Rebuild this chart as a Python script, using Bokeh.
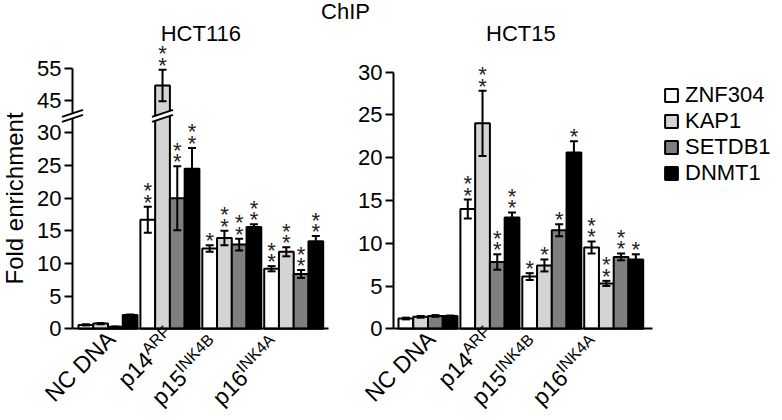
import math
from bokeh.plotting import figure
from bokeh.core.properties import value
from bokeh.models import (ColumnDataSource, Whisker, TeeHead, LabelSet, Label, Legend, LegendItem,
                          FixedTicker, Arrow, PolyAnnotation, Range1d, LinearAxis)
from bokeh.embed import file_html
from bokeh.resources import INLINE

FONT = "Liberation Sans"

# ---------------- data ----------------
groups = ["NC DNA", "p14ARF", "p15INK4B", "p16INK4A"]
label_main = ["NC DNA", "p14", "p15", "p16"]
label_sup = ["", "ARF", "INK4B", "INK4A"]
series = ["ZNF304", "KAP1", "SETDB1", "DNMT1"]
colors = ["#ffffff", "#d4d4d4", "#7f7f7f", "#000000"]

# HCT116
hct116_znf304 = [0.6, 16.7, 12.3, 9.2]
hct116_kap1 = [0.8, 49.7, 13.9, 11.8]
hct116_setdb1 = [0.3, 20.0, 12.9, 8.4]
hct116_dnmt1 = [2.1, 24.5, 15.6, 13.4]
hct116_znf304_err = [0.1, 2.0, 0.5, 0.4]
hct116_kap1_err = [0.1, 5.0, 1.1, 0.7]
hct116_setdb1_err = [0.05, 4.9, 0.9, 0.6]
hct116_dnmt1_err = [0.1, 3.2, 0.4, 0.8]
hct116_znf304_stars = [0, 2, 1, 2]
hct116_kap1_stars = [0, 2, 2, 2]
hct116_setdb1_stars = [0, 2, 2, 2]
hct116_dnmt1_stars = [0, 2, 2, 2]

# HCT15
hct15_znf304 = [1.2, 14.0, 6.1, 9.5]
hct15_kap1 = [1.4, 24.0, 7.4, 5.3]
hct15_setdb1 = [1.5, 7.8, 11.5, 8.4]
hct15_dnmt1 = [1.5, 13.0, 20.6, 8.1]
hct15_znf304_err = [0.1, 1.1, 0.4, 0.7]
hct15_kap1_err = [0.1, 3.8, 0.7, 0.3]
hct15_setdb1_err = [0.1, 0.9, 0.7, 0.4]
hct15_dnmt1_err = [0.05, 0.6, 1.3, 0.6]
hct15_znf304_stars = [0, 2, 1, 2]
hct15_kap1_stars = [0, 2, 1, 2]
hct15_setdb1_stars = [0, 2, 1, 2]
hct15_dnmt1_stars = [0, 2, 1, 1]

hct116_ticks = [0, 5, 10, 15, 20, 25, 30, 45, 55]
hct116_top = 55
hct15_ticks = [0, 5, 10, 15, 20, 25, 30]
hct15_top = 30

# broken axis (HCT116)
BRK_LO, BRK_HI, UPPER = 32.6, 40.1, 0.4855


def tf116(v):
    return v if v <= BRK_LO else BRK_LO + (v - BRK_HI) * UPPER


def tf15(v):
    return v


# ---------------- layout constants (pixels) ----------------
W, H = 780, 418
PX_X = 61.9            # px per group
G0 = 107.5             # px of first group centre (left panel)
ZERO_Y = 328.3         # px from top of y = 0
PX_YL, PX_YR = 6.53, 8.56


def xd(px):
    return (px - G0) / PX_X


R_OFF = xd(427.5)
L_AX0, L_AX1 = xd(72), xd(328)
R_AX0, R_AX1 = xd(393), xd(652)
BW = 14.75 / PX_X

p = figure(width=W, height=H, title=None,
           x_range=Range1d(xd(0), xd(W)),
           y_range=Range1d(-(H - ZERO_Y) / PX_YL, ZERO_Y / PX_YL),
           x_axis_location=None, y_axis_location=None,
           min_border=0, output_backend="svg", toolbar_location=None)
p.extra_y_ranges = {"r": Range1d(-(H - ZERO_Y) / PX_YR, ZERO_Y / PX_YR)}
p.xgrid.grid_line_color = None
p.ygrid.grid_line_color = None
p.outline_line_color = None


def style_axis(ax):
    ax.axis_line_width = 2
    ax.axis_line_color = "black"
    ax.major_tick_line_width = 2
    ax.major_tick_line_color = "black"
    ax.major_tick_out = 8
    ax.major_tick_in = 0
    ax.minor_tick_line_color = None
    ax.major_label_text_font = FONT
    ax.major_label_text_font_size = "22px"
    ax.major_label_text_color = "black"
    ax.major_label_standoff = 3


MAIN_FS, SUP_FS = 23, 16
SUP_EM = {"": 0, "ARF": 2.0, "INK4B": 2.89, "INK4A": 2.89}
# fine placement of the end of each rotated label (px, y up)
LABEL_END = {"": (-6, 3), "ARF": (-9, 6), "INK4B": (-27, -2), "INK4A": (-28, -2)}


def panel(vals, errs, stars, tf, ticks, top, x_off, ax0, ax1, rng, title):
    kw = {} if rng == "default" else {"y_range_name": rng}
    # axes
    yax = LinearAxis(fixed_location=ax0, bounds=(0, tf(top)),
                     ticker=FixedTicker(ticks=[tf(v) for v in ticks]), **kw)
    yax.major_label_overrides = {tf(v): str(v) for v in ticks}
    style_axis(yax)
    p.add_layout(yax, "left")
    xax = LinearAxis(fixed_location=0, bounds=(ax0, ax1), ticker=FixedTicker(ticks=[]), **kw)
    style_axis(xax)
    xax.major_tick_line_color = None
    p.add_layout(xax, "below")

    rends = []
    sx, sy, so, st = [], [], [], []
    for k in range(len(series)):
        xs = [x_off + g + (k - 1.5) * BW for g in range(len(groups))]
        src = ColumnDataSource(dict(
            x=xs,
            top=[tf(v) for v in vals[k]],
            upper=[tf(v + e) for v, e in zip(vals[k], errs[k])],
            lower=[tf(v - e) for v, e in zip(vals[k], errs[k])]))
        r = p.vbar(x="x", top="top", bottom=0, width=BW, source=src,
                   fill_color=colors[k], line_color="black", line_width=2, **kw)
        rends.append(r)
        p.add_layout(Whisker(source=src, base="x", upper="upper", lower="lower",
                             line_color="black", line_width=2, level="annotation",
                             upper_head=TeeHead(size=8, line_width=2, line_color="black"),
                             lower_head=TeeHead(size=8, line_width=2, line_color="black"),
                             **kw))
        for i in range(len(groups)):
            for j in range(stars[k][i]):
                sx.append(xs[i])
                sy.append(tf(vals[k][i] + errs[k][i]))
                so.append(-3 + 11.5 * j)
                st.append("*")
    p.add_layout(LabelSet(x="x", y="y", y_offset="yo", text="t",
                          source=ColumnDataSource(dict(x=sx, y=sy, yo=so, t=st)),
                          text_font=value(FONT), text_font_size=value("22px"),
                          text_align="center", text_baseline="alphabetic",
                          text_color="#222222", **kw))

    # rotated category labels with superscripts
    c = math.cos(math.pi / 4)
    mx, mxo, myo, mt = [], [], [], []
    ux, uxo, uyo, ut = [], [], [], []
    for i in range(len(groups)):
        sup = label_sup[i]
        a_x, a_y = LABEL_END[sup]
        if not sup:
            mx.append(x_off + i); mxo.append(a_x); myo.append(a_y); mt.append(label_main[i])
        else:
            ux.append(x_off + i); uxo.append(a_x); uyo.append(a_y); ut.append(sup)
            w = SUP_EM[sup] * SUP_FS
            mx.append(x_off + i)
            mxo.append(a_x - w * c + 2 * c)
            myo.append(a_y - w * c - 2 * c)
            mt.append(label_main[i])
    p.add_layout(LabelSet(x="x", y="y", x_offset="xo", y_offset="yo", text="t",
                          source=ColumnDataSource(dict(x=mx, y=[0] * len(mx), xo=mxo, yo=myo, t=mt)),
                          angle=math.pi / 4, text_align="right", text_baseline="top",
                          text_font=value(FONT), text_font_size=value(f"{MAIN_FS}px"),
                          text_color="black", **kw))
    p.add_layout(LabelSet(x="x", y="y", x_offset="xo", y_offset="yo", text="t",
                          source=ColumnDataSource(dict(x=ux, y=[0] * len(ux), xo=uxo, yo=uyo, t=ut)),
                          angle=math.pi / 4, text_align="right", text_baseline="top",
                          text_font=value(FONT), text_font_size=value(f"{SUP_FS}px"),
                          text_color="black", **kw))
    # panel title
    p.add_layout(Label(x=x_off + 1.5, y=H - 33, y_units="screen", text=title,
                       text_align="center", text_baseline="middle", text_font=FONT,
                       text_font_size="22px", text_color="black"))
    return rends, yax


def add_break(xc, yb):
    dx = 10.5 / PX_X
    dy = 3.5 / PX_YL
    sep = 2.5 / PX_YL
    p.add_layout(PolyAnnotation(
        xs=[xc - dx, xc + dx, xc + dx, xc - dx],
        ys=[yb - sep - dy, yb - sep + dy, yb + sep + dy, yb + sep - dy],
        fill_color="white", fill_alpha=1, line_color=None))
    for s in (-sep, sep):
        p.add_layout(Arrow(end=None, x_start=xc - dx, y_start=yb + s - dy,
                           x_end=xc + dx, y_end=yb + s + dy,
                           line_width=2, line_color="black"))


# ---------------- left panel ----------------
_, yax1 = panel([hct116_znf304, hct116_kap1, hct116_setdb1, hct116_dnmt1],
                [hct116_znf304_err, hct116_kap1_err, hct116_setdb1_err, hct116_dnmt1_err],
                [hct116_znf304_stars, hct116_kap1_stars, hct116_setdb1_stars, hct116_dnmt1_stars],
                tf116, hct116_ticks, hct116_top, 0, L_AX0, L_AX1, "default", "HCT116")
yax1.axis_label = "Fold enrichment"
yax1.axis_label_text_font = FONT
yax1.axis_label_text_font_size = "24px"
yax1.axis_label_text_font_style = "normal"
yax1.axis_label_text_color = "black"
yax1.axis_label_standoff = 6
add_break(L_AX0, BRK_LO)
add_break(1 + (1 - 1.5) * BW, BRK_LO)

# ---------------- right panel ----------------
rends, _ = panel([hct15_znf304, hct15_kap1, hct15_setdb1, hct15_dnmt1],
                 [hct15_znf304_err, hct15_kap1_err, hct15_setdb1_err, hct15_dnmt1_err],
                 [hct15_znf304_stars, hct15_kap1_stars, hct15_setdb1_stars, hct15_dnmt1_stars],
                 tf15, hct15_ticks, hct15_top, R_OFF, R_AX0, R_AX1, "r", "HCT15")

# overall title
p.add_layout(Label(x=345, y=H - 10.5, x_units="screen", y_units="screen", text="ChIP",
                   text_align="center", text_baseline="middle", text_font=FONT,
                   text_font_size="22px", text_color="black"))

legend = Legend(items=[LegendItem(label=s, renderers=[r]) for s, r in zip(series, rends)],
                location=(663, H - 186))
legend.border_line_color = None
legend.background_fill_alpha = 0
legend.label_text_font = FONT
legend.label_text_font_size = "22px"
legend.label_text_color = "black"
legend.glyph_width = 16
legend.glyph_height = 16
legend.label_standoff = 6
legend.label_height = 25
legend.spacing = 0
legend.padding = 0
legend.margin = 0
p.add_layout(legend)

open("out.html", "w").write(file_html(p, INLINE))
